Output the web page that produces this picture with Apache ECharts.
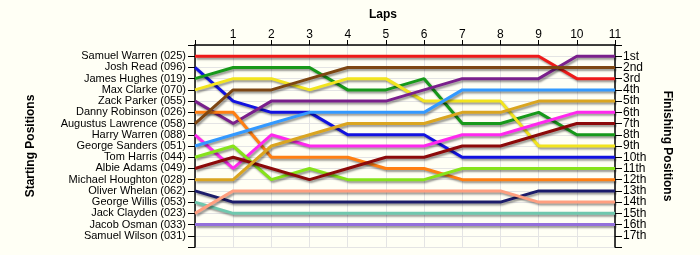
<!DOCTYPE html>
<html>
<head>
<meta charset="utf-8">
<script src="https://cdn.jsdelivr.net/npm/echarts@6/dist/echarts.min.js"></script>
<style>
html,body{margin:0;padding:0;background:#fffff5;}
#chart{width:700px;height:255px;}
</style>
</head>
<body>
<div id="chart"></div>
<script>
// ---- data ----
const laps = [0,1,2,3,4,5,6,7,8,9,10,11];
const startNames = ['Samuel Warren (025)','Josh Read (096)','James Hughes (019)','Max Clarke (070)','Zack Parker (055)','Danny Robinson (026)','Augustus Lawrence (058)','Harry Warren (088)','George Sanders (051)','Tom Harris (044)','Albie Adams (049)','Michael Houghton (028)','Oliver Whelan (062)','George Willis (053)','Jack Clayden (023)','Jacob Osman (033)','Samuel Wilson (031)'];
const finishLabels = ['1st','2nd','3rd','4th','5th','6th','7th','8th','9th','10th','11th','12th','13th','14th','15th','16th','17th'];

// position per lap (lap 0 .. 11) for each starter
const posSamuelWarren    = [1,1,1,1,1,1,1,1,1,1,3,3];
const posJoshRead        = [2,5,6,6,8,8,8,10,10,10,10,10];
const posJamesHughes     = [3,2,2,2,4,4,3,7,7,6,8,8];
const posMaxClarke       = [4,3,3,4,3,3,5,5,5,9,9,9];
const posZackParker      = [5,7,5,5,5,5,4,3,3,3,1,1];
const posDannyRobinson   = [6,6,10,10,10,11,11,12,12,12,12,12];
const posAugustusLawrence= [7,4,4,3,2,2,2,2,2,2,2,2];
const posHarryWarren     = [8,11,8,9,9,9,9,8,8,7,6,6];
const posGeorgeSanders   = [9,8,7,6,6,6,6,4,4,4,4,4];
const posTomHarris       = [10,9,12,11,12,12,12,11,11,11,11,11];
const posAlbieAdams      = [11,10,11,12,11,10,10,9,9,8,7,7];
const posMichaelHoughton = [12,12,9,8,7,7,7,6,6,5,5,5];
const posOliverWhelan    = [13,14,14,14,14,14,14,14,14,13,13,13];
const posGeorgeWillis    = [14,15,15,15,15,15,15,15,15,15,15,15];
const posJackClayden     = [15,13,13,13,13,13,13,13,13,14,14,14];
const posJacobOsman      = [16,16,16,16,16,16,16,16,16,16,16,16];
const posSamuelWilson    = [];

const driverSeries = [
  posSamuelWarren, posJoshRead, posJamesHughes, posMaxClarke, posZackParker,
  posDannyRobinson, posAugustusLawrence, posHarryWarren, posGeorgeSanders,
  posTomHarris, posAlbieAdams, posMichaelHoughton, posOliverWhelan,
  posGeorgeWillis, posJackClayden, posJacobOsman, posSamuelWilson
];
const colors = ['#ee1a1a','#1212e0','#17991a','#f2e41e','#7a208c','#ff7f12','#7d4612','#ff28ee','#3399ff','#86e31a','#8c0a0a','#daa520','#1c1c6a','#6fc8ae','#ff9f80','#9370db','#888888'];

const chart = echarts.init(document.getElementById('chart'), null, {renderer:'canvas'});
const FONT = 'Liberation Sans';
const series = driverSeries.map((arr, i) => ({
  name: startNames[i],
  type: 'line',
  xAxisIndex: 0,
  yAxisIndex: 0,
  data: arr.map((p, k) => [laps[k], p]),
  symbol: 'none',
  animation: false,
  lineStyle: {
    width: 3,
    color: colors[i],
    shadowColor: 'rgba(0,0,0,0.4)',
    shadowBlur: 2,
    shadowOffsetX: 1.5,
    shadowOffsetY: 2
  },
  z: 10 + i
}));

chart.setOption({
  backgroundColor: '#fffff5',
  animation: false,
  textStyle: {fontFamily: FONT},
  grid: {left: 195, right: 85, top: 45, bottom: 8, containLabel: false},
  xAxis: {
    type: 'value', position: 'top', min: 0, max: 11, interval: 1,
    name: 'Laps', nameLocation: 'middle', nameGap: 24,
    nameTextStyle: {fontFamily: FONT, fontWeight: 'bold', fontSize: 12, color: '#000', padding: [0, 44, 0, 0]},
    axisLine: {show: true, lineStyle: {color: '#000', width: 1.5}},
    axisTick: {show: true, length: 5, lineStyle: {color: '#000'}},
    axisLabel: {fontFamily: FONT, fontSize: 12, color: '#000', margin: 4,
      formatter: v => v === 0 ? '' : String(v)},
    splitLine: {show: true, lineStyle: {color: '#e4e4e4', width: 1}}
  },
  yAxis: [
    {
      type: 'value', min: 0, max: 18, interval: 1, inverse: true, position: 'left',
      name: 'Starting Positions', nameLocation: 'middle', nameGap: 158, nameRotate: 90,
      nameTextStyle: {fontFamily: FONT, fontWeight: 'bold', fontSize: 12, color: '#000'},
      axisLine: {show: true, lineStyle: {color: '#000', width: 1.5}},
      axisTick: {show: true, length: 7, lineStyle: {color: '#000'}},
      axisLabel: {fontFamily: FONT, fontSize: 11, color: '#000', margin: 9,
        formatter: v => (v >= 1 && v <= startNames.length) ? startNames[v-1] : ''},
      splitLine: {show: true, lineStyle: {color: '#e4e4e4', width: 1}}
    },
    {
      type: 'value', min: 0, max: 18, interval: 1, inverse: true, position: 'right',
      name: 'Finishing Positions', nameLocation: 'middle', nameGap: 46, nameRotate: -90,
      nameTextStyle: {fontFamily: FONT, fontWeight: 'bold', fontSize: 12, color: '#000'},
      axisLine: {show: true, lineStyle: {color: '#000', width: 1.5}},
      axisTick: {show: true, length: 7, lineStyle: {color: '#000'}},
      axisLabel: {fontFamily: FONT, fontSize: 12, color: '#000', margin: 8,
        formatter: v => (v >= 1 && v <= finishLabels.length) ? finishLabels[v-1] : ''},
      splitLine: {show: false}
    }
  ],
  series: series
});
</script>
</body>
</html>
